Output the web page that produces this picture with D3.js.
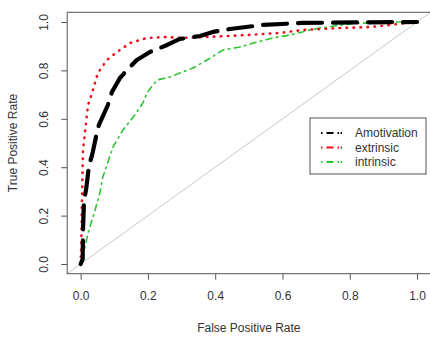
<!DOCTYPE html>
<html>
<head>
<meta charset="utf-8">
<script src="https://cdn.jsdelivr.net/npm/d3@7"></script>
<style>
  body { margin: 0; background: #fff; }
  svg text { font-family: "Liberation Sans", Arial, sans-serif; fill: #333; }
</style>
</head>
<body>
<div id="chart"></div>
<script>
// values: false positive rate / true positive rate
const amotivationFpr = [0, 0.006, 0.007, 0.01, 0.016, 0.025, 0.034, 0.048, 0.054, 0.081, 0.093, 0.117, 0.138, 0.167, 0.206, 0.257, 0.295, 0.319, 0.355, 0.393, 0.444, 0.542, 0.661, 0.81, 1.0];
const amotivationTpr = [0, 0.02, 0.14, 0.264, 0.306, 0.409, 0.45, 0.541, 0.574, 0.657, 0.711, 0.769, 0.802, 0.843, 0.876, 0.905, 0.93, 0.934, 0.942, 0.959, 0.971, 0.988, 0.996, 0.998, 1.0];

const extrinsicFpr = [0, 0.002, 0.004, 0.007, 0.022, 0.034, 0.051, 0.078, 0.108, 0.147, 0.197, 0.257, 0.295, 0.376, 0.495, 0.593, 0.661, 0.771, 0.86, 1.0];
const extrinsicTpr = [0, 0.1, 0.264, 0.471, 0.657, 0.707, 0.789, 0.843, 0.876, 0.913, 0.934, 0.938, 0.934, 0.938, 0.946, 0.955, 0.967, 0.975, 0.979, 1.0];

const intrinsicFpr = [0, 0.004, 0.013, 0.022, 0.043, 0.057, 0.066, 0.096, 0.126, 0.156, 0.185, 0.197, 0.227, 0.266, 0.295, 0.334, 0.376, 0.423, 0.474, 0.524, 0.572, 0.622, 0.682, 0.712, 0.801, 0.899, 1.0];
const intrinsicTpr = [0, 0.037, 0.07, 0.128, 0.223, 0.293, 0.36, 0.483, 0.554, 0.607, 0.665, 0.707, 0.76, 0.773, 0.789, 0.81, 0.843, 0.884, 0.897, 0.917, 0.934, 0.946, 0.967, 0.975, 0.992, 1.0, 1.0];

const seriesNames = ["Amotivation", "extrinsic", "intrinsic"];
const tickValues = [0, 0.2, 0.4, 0.6, 0.8, 1.0];

const width = 430, height = 337;
// R style: data range padded by 4% on each side
const x = d3.scaleLinear().domain([-0.04, 1.04]).range([67.2, 430.5]);
const y = d3.scaleLinear().domain([-0.04, 1.04]).range([273.7, 12.3]);

const svg = d3.select("#chart").append("svg")
    .attr("width", width)
    .attr("height", height);

const zip = (a, b) => a.map((v, i) => [v, b[i]]);

const styles = {
    Amotivation: { color: "#000", width: 4.2, dash: "24,11", data: zip(amotivationFpr, amotivationTpr) },
    extrinsic:   { color: "#f0101c", width: 2.6, dash: "0.5,6.5", data: zip(extrinsicFpr, extrinsicTpr) },
    intrinsic:   { color: "#2cc42c", width: 1.6, dash: "1.5,4.5,6,4.5", data: zip(intrinsicFpr, intrinsicTpr) }
};

// diagonal reference line (abline 0,1), spans the whole plot region
svg.append("line")
    .attr("x1", x(-0.04)).attr("y1", y(-0.04))
    .attr("x2", x(1.04)).attr("y2", y(1.04))
    .attr("stroke", "#c8c8c8")
    .attr("stroke-width", 1);

const line = d3.line()
    .x(d => x(d[0]))
    .y(d => y(d[1]));

// draw intrinsic first, then extrinsic, black on top where they overlap
["intrinsic", "extrinsic", "Amotivation"].forEach(name => {
    const s = styles[name];
    svg.append("path")
        .datum(s.data)
        .attr("fill", "none")
        .attr("stroke", s.color)
        .attr("stroke-width", s.width)
        .attr("stroke-dasharray", s.dash)
        .attr("stroke-linecap", "round")
        .attr("stroke-linejoin", "round")
        .attr("d", line);
});

// plot box
svg.append("rect")
    .attr("x", x(-0.04)).attr("y", y(1.04))
    .attr("width", x(1.04) - x(-0.04))
    .attr("height", y(-0.04) - y(1.04))
    .attr("fill", "none")
    .attr("stroke", "#555")
    .attr("stroke-width", 1);

// axes
const xAxis = svg.append("g")
    .attr("transform", `translate(0,${y(-0.04)})`)
    .call(d3.axisBottom(x).tickValues(tickValues).tickFormat(d3.format(".1f")).tickSize(6).tickPadding(12));
const yAxis = svg.append("g")
    .attr("transform", `translate(${x(-0.04)},0)`)
    .call(d3.axisLeft(y).tickValues(tickValues).tickFormat(d3.format(".1f")).tickSize(6));

[xAxis, yAxis].forEach(g => {
    g.select(".domain").remove();
    g.selectAll(".tick line").attr("stroke", "#555");
    g.selectAll("text").attr("font-size", 12).attr("fill", "#333");
});

yAxis.selectAll(".tick text")
    .attr("x", 0).attr("y", 0).attr("dy", null)
    .attr("text-anchor", "middle")
    .attr("transform", "translate(-19,0) rotate(-90)");

// axis titles
svg.append("text")
    .attr("x", (x(0) + x(1)) / 2)
    .attr("y", 332)
    .attr("text-anchor", "middle")
    .attr("font-size", 12)
    .text("False Positive Rate");

svg.append("text")
    .attr("transform", `translate(17,${(y(0) + y(1)) / 2}) rotate(-90)`)
    .attr("text-anchor", "middle")
    .attr("font-size", 12)
    .text("True Positive Rate");

// legend
const legend = svg.append("g").attr("transform", "translate(310,118)");
legend.append("rect")
    .attr("width", 116).attr("height", 56)
    .attr("fill", "#fff")
    .attr("stroke", "#555")
    .attr("stroke-width", 1);

seriesNames.forEach((name, i) => {
    const ly = 15 + i * 14.5;
    legend.append("line")
        .attr("x1", 11).attr("x2", 32)
        .attr("y1", ly).attr("y2", ly)
        .attr("stroke", styles[name].color)
        .attr("stroke-width", 2)
        .attr("stroke-dasharray", "1.5,4,7,4,1.5");
    legend.append("text")
        .attr("x", 45)
        .attr("y", ly)
        .attr("dy", "0.35em")
        .attr("font-size", 12)
        .text(name);
});
</script>
</body>
</html>
